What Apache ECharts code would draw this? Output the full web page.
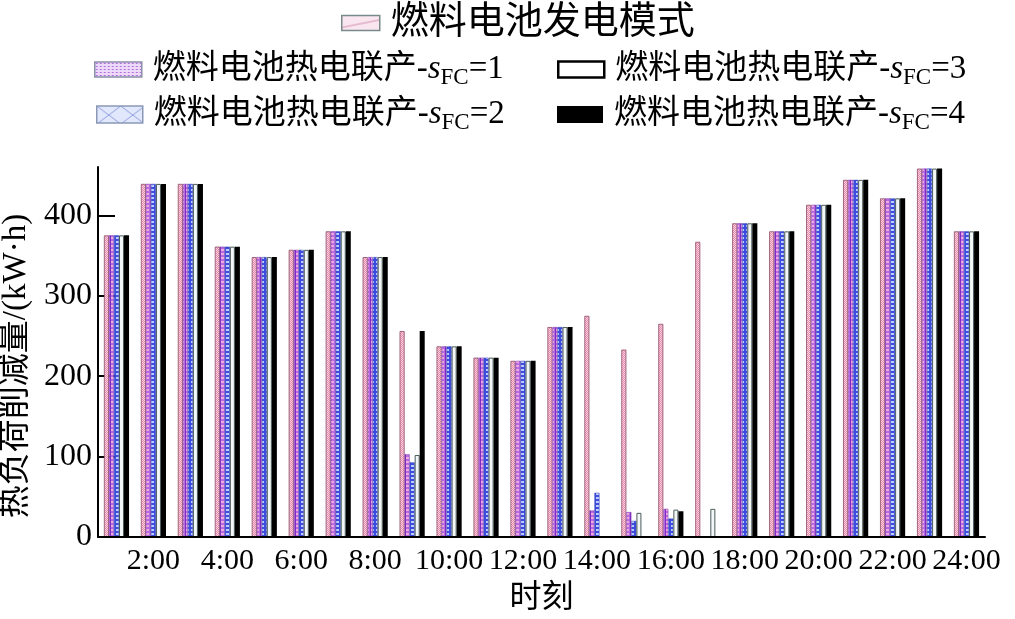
<!DOCTYPE html>
<html>
<head>
<meta charset="utf-8">
<script src="https://cdn.jsdelivr.net/npm/echarts@6/dist/echarts.min.js"></script>
<style>html,body{margin:0;padding:0;background:#fff;}#c{width:1015px;height:619px;}</style>
</head>
<body>
<div id="c"></div>
<script>
// ---- data ----
var categories = ['1:00','2:00','3:00','4:00','5:00','6:00','7:00','8:00','9:00','10:00','11:00','12:00',
  '13:00','14:00','15:00','16:00','17:00','18:00','19:00','20:00','21:00','22:00','23:00','24:00'];
var seriesNames = ['燃料电池发电模式','燃料电池热电联产-sFC=1','燃料电池热电联产-sFC=2','燃料电池热电联产-sFC=3','燃料电池热电联产-sFC=4'];
var fcPower = [375,439,439,361,348,357,380,348,256,237,223,219,261,275,233,265,367,390,380,413,444,421,458,380];
var chpS1   = [375,439,439,361,348,357,380,348,103,237,223,219,261,33,31,35,0,390,380,413,444,421,458,380];
var chpS2   = [375,439,439,361,348,357,380,348,93,237,223,219,261,55,20,23,0,390,380,413,444,421,458,380];
var chpS3   = [375,439,439,361,348,357,380,348,102,237,223,219,261,0,30,34,35,390,380,413,444,421,458,380];
var chpS4   = [375,439,439,361,348,357,380,348,256,237,223,219,261,0,0,32,0,390,380,413,444,421,458,380];
var yTicks = [0,100,200,300,400];
var yName = '热负荷削减量/(kW·h)';

// ---- patterns ----
function pat(w,h,draw){var c=document.createElement('canvas');c.width=w;c.height=h;var g=c.getContext('2d');draw(g);return c;}
var pinkPat = pat(2,2,function(g){g.fillStyle='#e88aac';g.fillRect(0,0,2,2);g.fillStyle='#f9d2e0';g.fillRect(0,0,1,1);g.fillRect(1,1,1,1);});
var s1Pat = pat(5,4,function(g){g.fillStyle='#b86ae2';g.fillRect(0,0,5,4);g.fillStyle='#f0a8e0';g.fillRect(1,1,3,2);g.fillStyle='#7c2cc0';g.fillRect(0,0,1,4);});
var s2Pat = pat(5,4,function(g){g.fillStyle='#3c4cde';g.fillRect(0,0,5,4);g.fillStyle='#c0ccff';g.fillRect(1,1,3,2);});
var legPink = pat(40,15,function(g){g.fillStyle='#f9e6ef';g.fillRect(0,0,40,15);g.strokeStyle='#d090b0';g.beginPath();g.moveTo(0,12);g.lineTo(40,4);g.stroke();});
var legS1 = pat(4,3,function(g){g.fillStyle='#ecdaf8';g.fillRect(0,0,4,3);g.fillStyle='#b070e0';g.fillRect(1,1,2,1);});
var legS2 = pat(24,18,function(g){g.fillStyle='#e2e8fb';g.fillRect(0,0,24,18);g.strokeStyle='#90a0e0';g.beginPath();g.moveTo(0,0);g.lineTo(24,18);g.moveTo(24,0);g.lineTo(0,18);g.stroke();});

var serif = "'Liberation Serif','Noto Sans CJK SC'";
function fmt(name){
  var m = name.match(/^(.*-)sFC(=\d)$/);
  if(!m) return name;
  return '{c|'+m[1]+'}{i|s}{sub|FC}{c|'+m[2]+'}';
}
var rich = {
  c:{fontFamily:serif,fontSize:33,color:'#000',lineHeight:40,verticalAlign:'middle'},
  i:{fontFamily:serif,fontSize:33,fontStyle:'italic',color:'#000',lineHeight:40,verticalAlign:'middle'},
  sub:{fontFamily:serif,fontSize:23,color:'#000',lineHeight:26,verticalAlign:'bottom'}
};
function legend(idx,left,top,iconW,iconH,icStyle,fs){
  return {
    data:[{name:seriesNames[idx],icon:'rect',itemStyle:icStyle}],
    left:left, top:top, itemWidth:iconW, itemHeight:iconH, selectedMode:false,
    formatter:fmt,
    textStyle:{fontFamily:serif,fontSize:fs||33,color:'#000',rich:rich,padding:[0,0,0,6]}
  };
}

var chart = echarts.init(document.getElementById('c'));
var option = {
  animation:false,
  backgroundColor:'#fff',
  legend:[
    legend(0,336,-1,38,15,{color:{image:legPink,repeat:'no-repeat'},borderColor:'#7a8a8a',borderWidth:1.5},38),
    legend(1,89,48,47,15,{color:{image:legS1,repeat:'repeat'},borderColor:'#8a90a8',borderWidth:1.5}),
    legend(2,91,93,46,17,{color:{image:legS2,repeat:'repeat'},borderColor:'#8a98b8',borderWidth:1.5}),
    legend(3,552,48,46,16,{color:'#fff',borderColor:'#000',borderWidth:2.5}),
    legend(4,552,93,46,17,{color:'#000',borderColor:'#000',borderWidth:0})
  ],
  grid:{left:98,right:30,top:167,bottom:82,containLabel:false,outerBoundsMode:'none'},
  xAxis:{
    type:'category', data:categories, z:5,
    name:'时刻', nameLocation:'middle', nameGap:46,
    nameTextStyle:{fontFamily:serif,fontSize:32,color:'#000'},
    axisLine:{lineStyle:{color:'#000',width:2}},
    axisTick:{inside:true,length:17,alignWithLabel:true,interval:function(i){return i%2===1;},lineStyle:{color:'#000',width:1.5}},
    axisLabel:{interval:function(i){return i%2===1;},fontFamily:serif,fontSize:30,color:'#000',margin:9}
  },
  yAxis:{
    type:'value', min:yTicks[0], max:460, interval:100,
    name:'{t|'+yName+'}{sp|}', nameLocation:'middle', nameGap:64,
    nameTextStyle:{fontFamily:serif,fontSize:33,color:'#000',
      rich:{t:{fontFamily:serif,fontSize:33,color:'#000'},sp:{width:28}}},
    axisLine:{show:true,lineStyle:{color:'#000',width:2}},
    axisTick:{show:true,inside:true,length:17,lineStyle:{color:'#000',width:2}},
    splitLine:{show:false},
    axisLabel:{fontFamily:serif,fontSize:32,color:'#000',margin:6,showMaxLabel:false,
      formatter:function(v){return yTicks.indexOf(v)>=0?String(v):'';}}
  },
  series:[
    {name:seriesNames[0],type:'bar',data:fcPower,barGap:'0%',barCategoryGap:'32%',
      itemStyle:{color:{image:pinkPat,repeat:'repeat'},borderColor:'#8c4a66',borderWidth:0.8}},
    {name:seriesNames[1],type:'bar',data:chpS1,barGap:'0%',barCategoryGap:'32%',
      itemStyle:{color:{image:s1Pat,repeat:'repeat'},borderColor:'#7a3aa8',borderWidth:0.5}},
    {name:seriesNames[2],type:'bar',data:chpS2,barGap:'0%',barCategoryGap:'32%',
      itemStyle:{color:{image:s2Pat,repeat:'repeat'},borderColor:'#3a48b0',borderWidth:0.5}},
    {name:seriesNames[3],type:'bar',data:chpS3,barGap:'0%',barCategoryGap:'32%',
      itemStyle:{color:'#f4f7f7',borderColor:'#4a5a5a',borderWidth:1}},
    {name:seriesNames[4],type:'bar',data:chpS4,barGap:'0%',barCategoryGap:'32%',
      itemStyle:{color:'#000'}}
  ]
};
chart.setOption(option);
</script>
</body>
</html>
